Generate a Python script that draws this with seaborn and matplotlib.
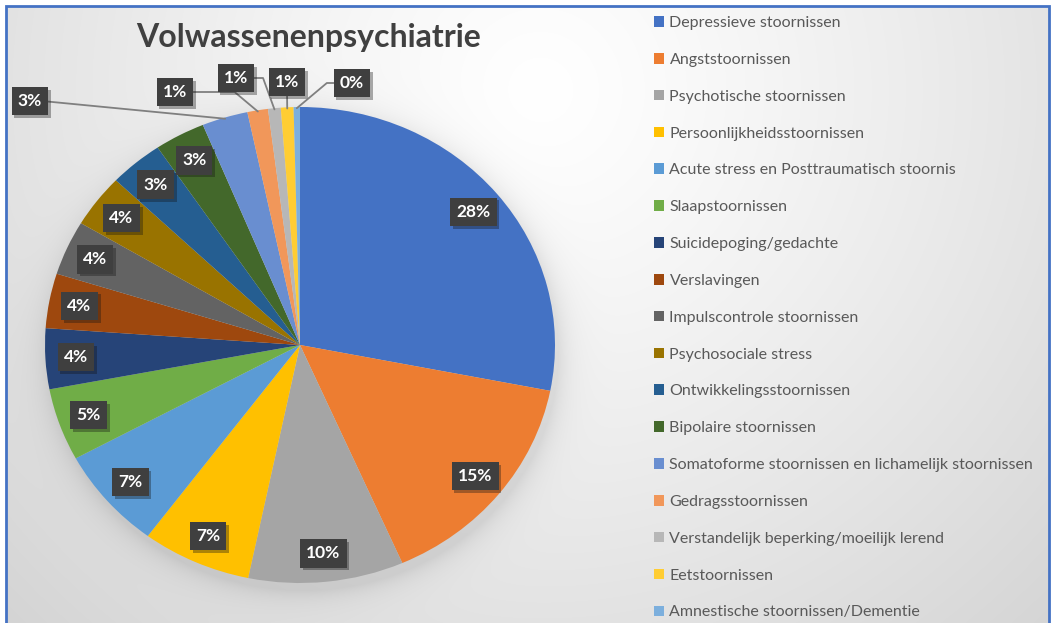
import numpy as np
import matplotlib
matplotlib.use("Agg")
import matplotlib.pyplot as plt
import matplotlib.patheffects as pe
from matplotlib.patches import Patch
import seaborn as sns

# ---------------- data ----------------
categories = [
    "Depressieve stoornissen",
    "Angststoornissen",
    "Psychotische stoornissen",
    "Persoonlijkheidsstoornissen",
    "Acute stress en Posttraumatisch stoornis",
    "Slaapstoornissen",
    "Suicidepoging/gedachte",
    "Verslavingen",
    "Impulscontrole stoornissen",
    "Psychosociale stress",
    "Ontwikkelingsstoornissen",
    "Bipolaire stoornissen",
    "Somatoforme stoornissen en lichamelijk stoornissen",
    "Gedragsstoornissen",
    "Verstandelijk beperking/moeilijk lerend",
    "Eetstoornissen",
    "Amnestische stoornissen/Dementie",
]
values = [28.0, 15.3, 9.8, 6.9, 6.9, 4.9, 4.1, 3.7, 3.7, 3.6, 3.4, 3.2, 2.9, 1.3, 0.8, 0.8, 0.4]
colors_hex = [
    "#4472C4", "#ED7D31", "#A5A5A5", "#FFC000", "#5B9BD5", "#70AD47",
    "#264478", "#9E480E", "#636363", "#997300", "#255E91", "#43682B",
    "#698ED0", "#F1975A", "#B7B7B7", "#FFCD33", "#7CAFDD",
]
title = "Volwassenenpsychiatrie"

# ---------------- style / layout ----------------
sns.set_style("white")
plt.rcParams["font.family"] = ["Lato", "DejaVu Sans"]
palette = sns.color_palette(colors_hex)

W, H = 1052, 623
fig = plt.figure(figsize=(W / 100, H / 100), dpi=100)
fig.patch.set_facecolor("white")

# background: radial gradient + soft pie shadow
bg = fig.add_axes([0, 0, 1, 1])
bg.set_axis_off()
yy, xx = np.mgrid[0:H, 0:W]
d = np.hypot(xx - 540, yy - 90)
val = 1.0 - 0.17 * (d / 760.0) ** 1.2
PCX, PCY, PRX, PRY = 300, 345, 255, 238
rr = np.hypot((xx - PCX - 3) / PRX, (yy - PCY - 7) / PRY)
dist = (rr - 1.0) * 245
shadow = np.where(dist > 0, 0.09 * np.exp(-dist / 13.0), 0.09)
val = np.clip(val - shadow, 0, 1)
img = np.dstack([val, val, val])
img[:6, :, :] = 1
img[:, :6, :] = 1
img[:, 1050:, :] = 1
bg.imshow(img, extent=[0, W, H, 0], aspect="auto", interpolation="bilinear")
bg.set_xlim(0, W)
bg.set_ylim(H, 0)
bg.plot([6, 6, 1049, 1049], [H + 5, 6, 6, H + 5], color="#4472C4", lw=2.0,
        solid_joinstyle="miter")

# pie axes (elliptical like the reference)
ax = fig.add_axes([(PCX - PRX) / W, (H - PCY - PRY) / H, 2 * PRX / W, 2 * PRY / H])
wedges, _ = ax.pie(values, colors=palette, startangle=90, counterclock=False,
                   wedgeprops=dict(linewidth=0))
ax.set_aspect("auto")
ax.set_xlim(-1, 1)
ax.set_ylim(-1, 1)
ax.set_axis_off()

total = float(sum(values))
label_kw = dict(color="white", fontsize=12.5, fontweight="bold", ha="center", va="center",
                bbox=dict(boxstyle="square,pad=0.36", fc="#3f3f3f", ec="none"))
shadow_fx = [pe.SimplePatchShadow(offset=(2, -2), alpha=0.35), pe.Normal()]

# outside label placement (pixel layout) for the small slices
outside = {
    12: dict(pos=(30, 101), relpos=(1, 0.5), conn="arc3,rad=0"),
    13: dict(pos=(175, 92), relpos=(1, 0.5), conn="angle,angleA=0,angleB=-40,rad=0"),
    14: dict(pos=(236, 78), relpos=(1, 0.5), conn="angle,angleA=0,angleB=-70,rad=0"),
    15: dict(pos=(287, 82), relpos=(0.5, 0), conn="arc3,rad=0"),
    16: dict(pos=(352, 83), relpos=(0, 0.5), conn="angle,angleA=180,angleB=40,rad=0"),
}

for i, w in enumerate(wedges):
    mid = np.deg2rad((w.theta1 + w.theta2) / 2)
    txt = f"{round(values[i] / total * 100)}%"
    if i in outside:
        o = outside[i]
        px, py = o["pos"]
        tx, ty = (px - PCX) / PRX, (PCY - py) / PRY
        t = ax.annotate(txt, xy=(np.cos(mid) * 0.995, np.sin(mid) * 0.995),
                        xytext=(tx, ty), annotation_clip=False,
                        arrowprops=dict(arrowstyle="-", color="#7f7f7f", lw=1.3,
                                        shrinkA=0, shrinkB=0, relpos=o["relpos"],
                                        connectionstyle=o["conn"]),
                        **label_kw)
    else:
        r = 0.88
        t = ax.text(np.cos(mid) * r, np.sin(mid) * r, txt, **label_kw)
    t.get_bbox_patch().set_path_effects(shadow_fx)

# title
fig.text(309 / W, 1 - 37 / H, title, ha="center", va="center", fontsize=23,
         fontweight="bold", color="#404040")

# legend
handles = [Patch(facecolor=c, edgecolor="none") for c in palette]
leg = fig.legend(handles, categories, loc="upper left",
                 bbox_to_anchor=(654 / W, 1 - 16 / H), frameon=False,
                 fontsize=11.5, labelspacing=1.43, handlelength=0.65, handleheight=0.65,
                 handletextpad=0.32, borderaxespad=0, borderpad=0)
for txt in leg.get_texts():
    txt.set_color("#595959")

fig.savefig("out.png", dpi=100, facecolor=fig.get_facecolor())
